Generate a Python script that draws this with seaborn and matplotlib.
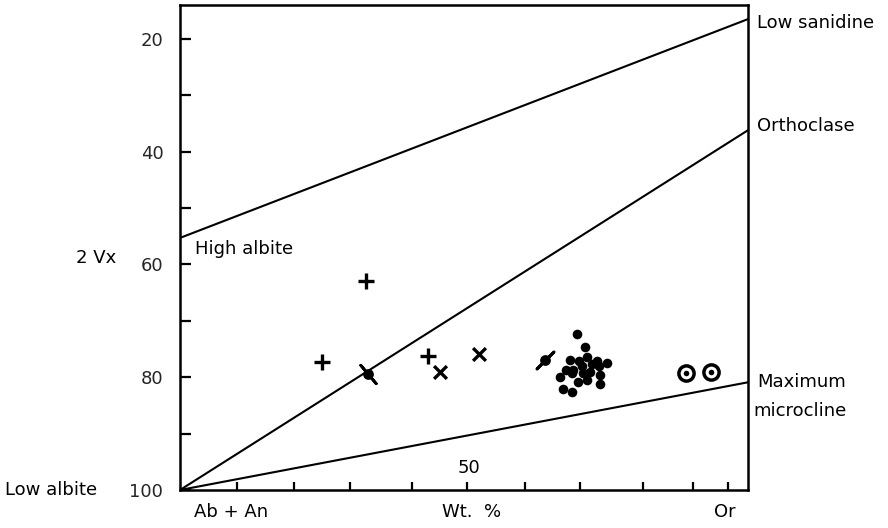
import numpy as np
import pandas as pd
import matplotlib
matplotlib.use("Agg")
import matplotlib.pyplot as plt
import seaborn as sns

# ---- data (x: Wt.% scale 0-100 across the box, y: 2Vx) ----
line_names = ["Low sanidine", "Orthoclase", "Maximum microcline"]
line_x0 = [0, 0, 0]
line_y0 = [55.3, 100, 100]
line_x1 = [100, 100, 100]
line_y1 = [16.5, 36.2, 80.9]

plus_x = [32.7, 25.0, 43.7]
plus_y = [62.9, 77.3, 76.2]

cross_x = [45.8, 52.6]
cross_y = [79.1, 75.9]

slash_x = [33.1, 64.3]
slash_y = [79.4, 77.0]
slash_angle = [40, -45]

dot_x = [69.9, 71.3, 68.7, 70.3, 71.6, 73.5, 75.1, 68.0, 69.2, 70.7, 72.5,
         73.8, 66.9, 69.0, 71.0, 72.2, 70.1, 71.6, 73.9, 73.9, 67.5, 69.1]
dot_y = [72.3, 74.6, 77.0, 77.1, 76.5, 77.1, 77.5, 78.8, 78.7, 78.1, 77.7,
         78.1, 79.9, 79.3, 79.3, 79.0, 80.8, 80.5, 79.6, 81.2, 82.1, 82.6]

ring_x = [89.1, 93.5]
ring_y = [79.3, 79.1]

y_major = [20, 40, 60, 80, 100]
y_minor = [30, 50, 70, 90]
x_ticks = [10, 20, 30, 40.8, 50.5, 60.7, 70.4, 81.5, 90.3, 96.5]

sns.set_theme(style="white")
plt.rcParams["font.family"] = ["DejaVu Sans"]

fig = plt.figure(figsize=(8.88, 5.28), dpi=100)
ax = fig.add_axes([180 / 888, 1 - 490 / 528, 568 / 888, 485 / 528])

# reference lines
for n, a, b, c, d in zip(line_names, line_x0, line_y0, line_x1, line_y1):
    df = pd.DataFrame({"x": [a, c], "y": [b, d]})
    sns.lineplot(data=df, x="x", y="y", ax=ax, color="black", lw=1.5,
                 sort=False, estimator=None)

k = "black"
sns.scatterplot(x=plus_x, y=plus_y, marker="+", s=140, color=k,
                linewidth=2.4, ax=ax)
sns.scatterplot(x=cross_x, y=cross_y, marker="x", s=85, color=k,
                linewidth=2.4, ax=ax)
sns.scatterplot(x=dot_x, y=dot_y, marker="o", s=48, color=k,
                edgecolor=k, linewidth=0, ax=ax)
sns.scatterplot(x=slash_x, y=slash_y, marker="o", s=60, color=k,
                edgecolor=k, linewidth=0, ax=ax)
for xx, yy, ang in zip(slash_x, slash_y, slash_angle):
    sns.scatterplot(x=[xx], y=[yy], marker=(2, 2, ang), s=300, color=k,
                    edgecolor=k, linewidth=2.0, ax=ax)
sns.scatterplot(x=ring_x, y=ring_y, marker="o", s=120, color="white",
                edgecolor=k, linewidth=2.5, ax=ax)
sns.scatterplot(x=ring_x, y=ring_y, marker="o", s=16, color=k,
                edgecolor=k, linewidth=0, ax=ax)

ax.set_xlim(0, 100)
ax.set_ylim(100, 14)
ax.set_xlabel("")
ax.set_ylabel("")

for s in ax.spines.values():
    s.set_color("black")
    s.set_linewidth(1.8)

fs = 13
ax.set_yticks(y_major)
ax.set_yticklabels([str(v) for v in y_major])
ax.set_yticks(y_minor, minor=True)
ax.tick_params(axis="y", which="both", direction="in", length=8, width=1.6,
               color="black", left=True, right=False, labelsize=fs, pad=12)
ax.set_xticks(x_ticks)
ax.set_xticklabels([])
ax.tick_params(axis="x", direction="in", length=6, width=1.6, color="black",
               bottom=True, top=False)

txt = dict(fontsize=fs, color="black", clip_on=False)
ax.text(-30.8, 100, "Low albite", ha="left", va="center", **txt)
ax.text(-14.8, 58.9, "2 Vx", ha="center", va="center", **txt)
ax.text(2.6, 57.3, "High albite", ha="left", va="center", **txt)
ax.text(101.6, 17.2, "Low sanidine", ha="left", va="center", **txt)
ax.text(101.6, 35.5, "Orthoclase", ha="left", va="center", **txt)
ax.text(101.6, 80.9, "Maximum", ha="left", va="center", **txt)
ax.text(101.0, 86.0, "microcline", ha="left", va="center", **txt)
ax.text(9.0, 103.9, "Ab + An", ha="center", va="center", **txt)
ax.text(51.4, 103.9, "Wt.  %", ha="center", va="center", **txt)
ax.text(96.0, 103.9, "Or", ha="center", va="center", **txt)
ax.text(50.9, 96.1, "50", ha="center", va="center", **txt)

fig.savefig("out.png", dpi=100)
